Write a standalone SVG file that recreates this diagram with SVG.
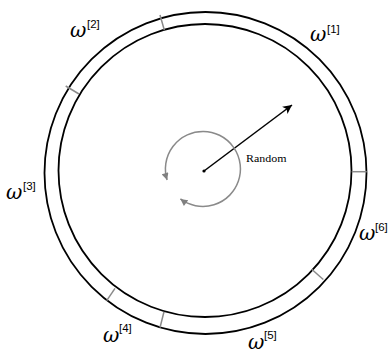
<svg xmlns="http://www.w3.org/2000/svg" width="388" height="354" viewBox="0 0 388 354">
<style>
.ring{fill:none;stroke:#000;stroke-width:1.8}
.div{stroke:#8a8a8a;stroke-width:1.5}
.w{font-family:"DejaVu Serif",serif;font-style:italic;font-size:20px;fill:#000}
.s{font-family:"Liberation Sans",sans-serif;font-size:11.5px;fill:#000}
.lbl{font-family:"Liberation Serif",serif;font-size:11px;fill:#000}
</style>
<defs>
<marker id="ab" viewBox="0 0 10 10" refX="10" refY="5" markerWidth="11" markerHeight="9" markerUnits="userSpaceOnUse" orient="auto"><path d="M0,0 L10,5 L0,10 L2.5,5 Z" fill="#000"/></marker>
<marker id="ag" viewBox="0 0 10 10" refX="10" refY="5" markerWidth="8" markerHeight="7" markerUnits="userSpaceOnUse" orient="auto-start-reverse"><path d="M0,0 L10,5 L0,10 Z" fill="#808080"/></marker>
</defs>
<rect width="388" height="354" fill="#fff"/>
<g id="wheel">
<circle class="ring" cx="205.5" cy="173" r="161"/>
<circle class="ring" cx="205" cy="170.5" r="146.5"/>
</g>
<g id="connectors">
<line class="div" x1="160" y1="15" x2="164.3" y2="30"/>
<line class="div" x1="65.7" y1="86" x2="79" y2="94"/>
<line class="div" x1="351.7" y1="171.7" x2="366.7" y2="171.7"/>
<line class="div" x1="311.7" y1="269.3" x2="323.3" y2="279.5"/>
<line class="div" x1="115" y1="288.3" x2="106.7" y2="300.7"/>
<line class="div" x1="164" y1="311.7" x2="160" y2="327.5"/>
<line x1="204" y1="171" x2="292" y2="105" stroke="#000" stroke-width="1.5" marker-end="url(#ab)"/>
<path d="M167.1,180 A37.5,37.5 0 1 1 180.4,198.9" fill="none" stroke="#8a8a8a" stroke-width="1.5" marker-start="url(#ag)" marker-end="url(#ag)"/>
<circle cx="204" cy="171" r="1.6" fill="#000"/>
</g>
<g id="label-random"><text class="lbl" x="246" y="161.5" textLength="40.5" lengthAdjust="spacingAndGlyphs">Random</text></g>
<g id="w1"><text class="w" x="310" y="41">ω</text><text class="s" x="327" y="32.5">[1]</text></g>
<g id="w2"><text class="w" x="70" y="37">ω</text><text class="s" x="87" y="27.5">[2]</text></g>
<g id="w3"><text class="w" x="6" y="199">ω</text><text class="s" x="23" y="189.5">[3]</text></g>
<g id="w6"><text class="w" x="359" y="240">ω</text><text class="s" x="375" y="231">[6]</text></g>
<g id="w4"><text class="w" x="103" y="341.5">ω</text><text class="s" x="119" y="331.5">[4]</text></g>
<g id="w5"><text class="w" x="248" y="349">ω</text><text class="s" x="264" y="339">[5]</text></g>
</svg>
